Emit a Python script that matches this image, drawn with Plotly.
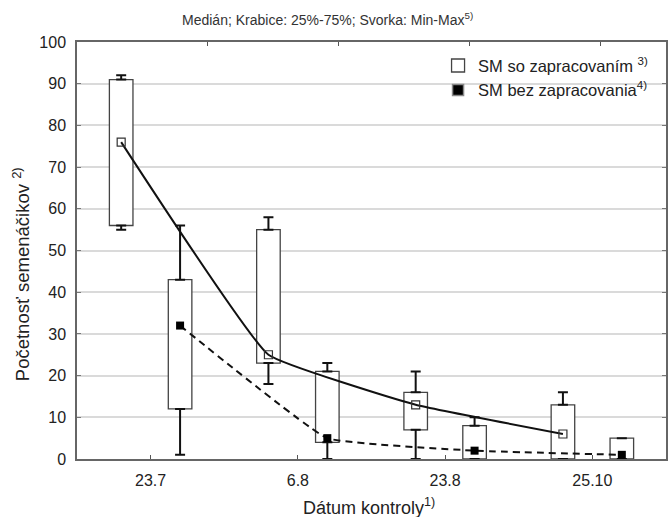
import plotly.graph_objects as go

# ---- data ----
categories = ["23.7", "6.8", "23.8", "25.10"]

so_min = [55, 18, 0, 0]
so_q1 = [56, 23, 7, 0]
so_med = [76, 25, 13, 6]
so_q3 = [91, 55, 16, 13]
so_max = [92, 58, 21, 16]

bez_min = [1, 0, 0, 0]
bez_q1 = [12, 4, 0, 0]
bez_med = [32, 5, 2, 1]
bez_q3 = [43, 21, 8, 5]
bez_max = [56, 23, 10, 5]

name_so = "SM so zapracovaním <sup>3)</sup>"
name_bez = "SM bez zapracovania<sup>4)</sup>"

# ---- layout constants ----
FONT = "Liberation Sans, Arial, sans-serif"
OFFSET = 0.2
BOXW = 0.16
idx = list(range(len(categories)))
x_so = [i - OFFSET for i in idx]
x_bez = [i + OFFSET for i in idx]

fig = go.Figure()


def add_series(xs, q1, med, q3, mn, mx, marker, dash, smooth):
    # box (25%-75%)
    fig.add_trace(go.Bar(
        x=xs, y=[b - a for a, b in zip(q1, q3)], base=q1, width=BOXW,
        marker=dict(color="white", line=dict(color="#444", width=1.3)),
        showlegend=False, hoverinfo="skip"))
    # upper whisker
    fig.add_trace(go.Scatter(
        x=xs, y=q3, mode="markers",
        marker=dict(size=1, color="rgba(0,0,0,0)"),
        error_y=dict(type="data", symmetric=False,
                     array=[b - a for a, b in zip(q3, mx)],
                     arrayminus=[0] * len(xs),
                     color="#111", thickness=2, width=5),
        showlegend=False, hoverinfo="skip"))
    # lower whisker
    fig.add_trace(go.Scatter(
        x=xs, y=q1, mode="markers",
        marker=dict(size=1, color="rgba(0,0,0,0)"),
        error_y=dict(type="data", symmetric=False,
                     array=[0] * len(xs),
                     arrayminus=[a - b for a, b in zip(q1, mn)],
                     color="#111", thickness=2, width=5),
        showlegend=False, hoverinfo="skip"))
    # median line + markers
    fig.add_trace(go.Scatter(
        x=xs, y=med, mode="lines+markers",
        line=dict(color="#111", width=2, shape="spline", smoothing=smooth, dash=dash),
        marker=marker, showlegend=False))


add_series(x_so, so_q1, so_med, so_q3, so_min, so_max,
           dict(symbol="square-open", size=8, color="#333", line=dict(width=1.2)),
           "solid", 0.3)
add_series(x_bez, bez_q1, bez_med, bez_q3, bez_min, bez_max,
           dict(symbol="square", size=8, color="#000"),
           "7px,5px", 0.3)

# legend entries
fig.add_trace(go.Scatter(
    x=[None], y=[None], mode="markers", name=name_so,
    marker=dict(symbol="square-open", size=13, color="#444", line=dict(width=1.3))))
fig.add_trace(go.Scatter(
    x=[None], y=[None], mode="markers", name=name_bez,
    marker=dict(symbol="square", size=11, color="#000",
                line=dict(color="#888", width=1.5))))

# dummy trace to show top axis ticks
fig.add_trace(go.Scatter(x=[None], y=[None], xaxis="x2", showlegend=False,
                         hoverinfo="skip"))

fig.update_layout(
    width=672, height=517,
    margin=dict(l=77, r=4, t=42, b=58),
    paper_bgcolor="white", plot_bgcolor="white",
    barmode="overlay",
    font=dict(family=FONT, color="#222"),
    showlegend=True,
    legend=dict(x=0.613, y=0.985, xanchor="left", yanchor="top",
                bgcolor="rgba(0,0,0,0)", font=dict(size=16.5, color="#222"),
                itemwidth=30, tracegroupgap=0),
    xaxis=dict(range=[-0.5, 3.5], tickvals=idx, ticktext=categories,
               ticks="inside", ticklen=4, tickcolor="#555",
               showline=True, linecolor="#666", linewidth=1.5, mirror=True,
               showgrid=False, zeroline=False,
               tickfont=dict(size=16, color="#222"), ticklabelstandoff=6),
    xaxis2=dict(overlaying="x", side="top", range=[0, 4.5],
                tickvals=[1, 2, 3, 4], showticklabels=False,
                ticks="inside", ticklen=4, tickcolor="#555",
                showline=False, showgrid=False, zeroline=False),
    yaxis=dict(range=[0, 100], dtick=10, ticks="inside", ticklen=4,
               tickcolor="#777", mirror="ticks",
               showline=True, linecolor="#666", linewidth=1.5,
               showgrid=True, gridcolor="#dadada", gridwidth=1.5,
               zeroline=False,
               tickfont=dict(size=16, color="#222"), ticklabelstandoff=6),
    annotations=[
        dict(text="Medián; Krabice: 25%-75%; Svorka: Min-Max<sup>5)</sup>",
             xref="paper", yref="paper", x=(328 - 77) / 591, y=(459 - 19) / 417,
             xanchor="center", yanchor="middle", showarrow=False,
             font=dict(size=14, color="#333")),
        dict(text="Početnosť semenáčikov <sup>2)</sup>",
             xref="paper", yref="paper", x=-(77 - 21) / 591, y=(459 - 274) / 417,
             xanchor="center", yanchor="middle", textangle=-90, showarrow=False,
             font=dict(size=18.5, color="#222")),
        dict(text="Dátum kontroly<sup>1)</sup>",
             xref="paper", yref="paper", x=(370 - 77) / 591, y=(459 - 506) / 417,
             xanchor="center", yanchor="middle", showarrow=False,
             font=dict(size=18, color="#222")),
    ],
)

fig.write_html(
    "out.html",
    config={"displayModeBar": False},
    post_script="document.body.style.margin='0px';"
                "document.body.style.overflow='hidden';",
)
